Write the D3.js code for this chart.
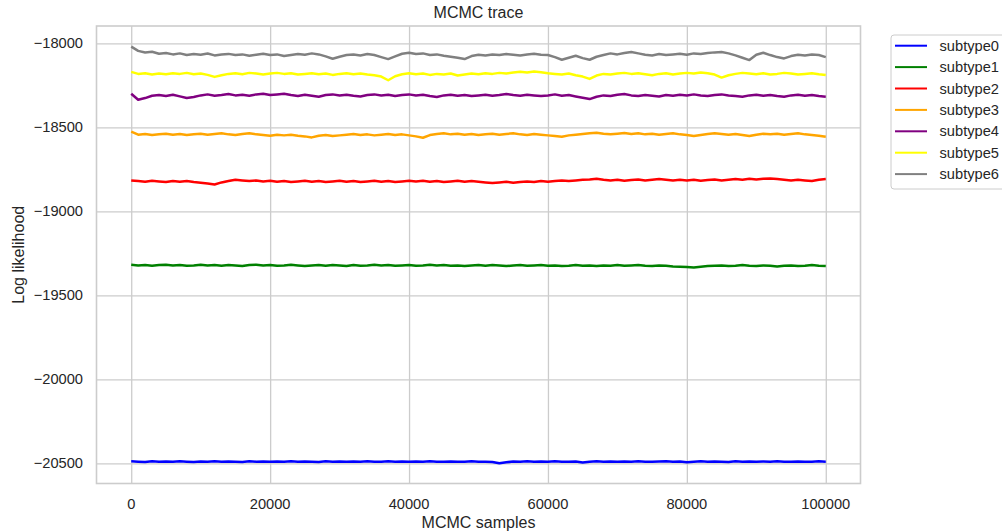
<!DOCTYPE html>
<html>
<head>
<meta charset="utf-8">
<script src="https://cdn.jsdelivr.net/npm/d3@7"></script>
<style>
	body { margin: 0; background: #fff; }
	svg text { font-family: "Liberation Sans", Arial, sans-serif; fill: #262626; }
</style>
</head>
<body>
<div id="chart"><svg></svg></div>
<script>
// one value every 1000 samples
var sampleStep = 1000;
var seriesNames = ["subtype0", "subtype1", "subtype2", "subtype3", "subtype4", "subtype5", "subtype6"];
var seriesColors = ["blue", "green", "red", "orange", "purple", "yellow", "gray"];
var yTicks = [-18000, -18500, -19000, -19500, -20000, -20500];
var xTicks = [0, 20000, 40000, 60000, 80000, 100000];

var subtype0 = [-20488,
	-20490,-20492,-20488,-20490,-20489,-20491,-20488,-20490,-20492,-20489,
	-20490,-20488,-20491,-20489,-20490,-20492,-20488,-20490,-20489,-20491,
	-20489,-20490,-20488,-20491,-20489,-20490,-20492,-20488,-20490,-20489,
	-20491,-20489,-20490,-20488,-20491,-20490,-20488,-20490,-20489,-20491,
	-20489,-20490,-20488,-20491,-20490,-20489,-20491,-20490,-20488,-20490,
	-20491,-20492,-20500,-20494,-20489,-20490,-20488,-20491,-20489,-20490,
	-20488,-20490,-20491,-20489,-20495,-20490,-20488,-20490,-20489,-20491,
	-20489,-20490,-20488,-20491,-20490,-20489,-20488,-20490,-20489,-20494,
	-20490,-20488,-20491,-20489,-20490,-20492,-20488,-20490,-20489,-20491,
	-20489,-20490,-20488,-20491,-20490,-20489,-20491,-20490,-20488,-20490];

var subtype1 = [-19318,
	-19322,-19320,-19324,-19320,-19318,-19322,-19320,-19324,-19322,-19318,
	-19322,-19320,-19324,-19320,-19322,-19326,-19320,-19318,-19322,-19320,
	-19324,-19322,-19318,-19322,-19326,-19322,-19320,-19324,-19320,-19322,
	-19326,-19320,-19324,-19322,-19318,-19322,-19320,-19324,-19322,-19320,
	-19324,-19322,-19318,-19322,-19320,-19324,-19322,-19326,-19322,-19320,
	-19324,-19320,-19322,-19326,-19322,-19320,-19324,-19322,-19320,-19324,
	-19322,-19326,-19324,-19320,-19324,-19322,-19326,-19322,-19324,-19320,
	-19324,-19322,-19320,-19324,-19326,-19322,-19324,-19328,-19330,-19332,
	-19334,-19330,-19326,-19324,-19322,-19326,-19324,-19320,-19324,-19326,
	-19322,-19324,-19328,-19324,-19322,-19326,-19324,-19320,-19324,-19326];

var subtype2 = [-18816,
	-18820,-18824,-18818,-18822,-18826,-18820,-18824,-18820,-18826,-18830,
	-18834,-18840,-18828,-18820,-18812,-18816,-18820,-18816,-18822,-18818,
	-18824,-18820,-18826,-18822,-18818,-18824,-18820,-18826,-18822,-18818,
	-18824,-18820,-18826,-18822,-18818,-18824,-18820,-18826,-18822,-18818,
	-18822,-18818,-18824,-18820,-18826,-18822,-18818,-18824,-18820,-18824,
	-18828,-18832,-18828,-18824,-18830,-18826,-18822,-18826,-18820,-18824,
	-18820,-18816,-18820,-18816,-18812,-18810,-18806,-18812,-18816,-18812,
	-18818,-18814,-18810,-18816,-18812,-18808,-18812,-18816,-18812,-18816,
	-18812,-18818,-18814,-18810,-18816,-18812,-18808,-18812,-18806,-18810,
	-18806,-18804,-18808,-18812,-18816,-18812,-18816,-18820,-18812,-18808];

var subtype3 = [-18526,
	-18544,-18540,-18546,-18542,-18538,-18544,-18540,-18546,-18542,-18538,
	-18544,-18540,-18536,-18542,-18546,-18540,-18536,-18542,-18546,-18550,
	-18544,-18548,-18544,-18550,-18554,-18560,-18550,-18546,-18552,-18548,
	-18544,-18540,-18546,-18542,-18548,-18544,-18540,-18546,-18542,-18548,
	-18554,-18562,-18546,-18540,-18536,-18542,-18538,-18544,-18540,-18546,
	-18542,-18538,-18544,-18540,-18536,-18542,-18546,-18540,-18544,-18548,
	-18552,-18556,-18548,-18544,-18540,-18536,-18532,-18538,-18542,-18538,
	-18534,-18540,-18536,-18542,-18538,-18544,-18540,-18536,-18542,-18546,
	-18552,-18546,-18540,-18536,-18540,-18544,-18540,-18546,-18552,-18544,
	-18538,-18542,-18538,-18544,-18540,-18536,-18542,-18546,-18550,-18556];

var subtype4 = [-18300,
	-18336,-18326,-18312,-18308,-18314,-18306,-18316,-18326,-18320,-18310,
	-18304,-18312,-18308,-18302,-18310,-18306,-18312,-18304,-18300,-18308,
	-18304,-18300,-18308,-18314,-18306,-18312,-18318,-18308,-18304,-18310,
	-18306,-18312,-18316,-18308,-18304,-18310,-18306,-18314,-18308,-18304,
	-18310,-18306,-18314,-18320,-18310,-18306,-18312,-18308,-18314,-18310,
	-18306,-18312,-18308,-18302,-18308,-18312,-18306,-18310,-18314,-18310,
	-18304,-18312,-18308,-18316,-18324,-18332,-18318,-18310,-18314,-18306,
	-18302,-18310,-18314,-18308,-18312,-18316,-18308,-18312,-18306,-18310,
	-18304,-18310,-18314,-18308,-18304,-18310,-18314,-18318,-18310,-18306,
	-18312,-18308,-18314,-18318,-18310,-18306,-18312,-18308,-18314,-18318];

var subtype5 = [-18170,
	-18182,-18178,-18186,-18180,-18184,-18178,-18182,-18176,-18184,-18180,
	-18188,-18200,-18190,-18182,-18178,-18184,-18176,-18180,-18186,-18180,
	-18176,-18182,-18178,-18186,-18182,-18178,-18184,-18180,-18188,-18182,
	-18178,-18184,-18180,-18186,-18190,-18198,-18220,-18196,-18184,-18178,
	-18184,-18180,-18188,-18182,-18186,-18180,-18192,-18186,-18180,-18184,
	-18178,-18182,-18176,-18180,-18174,-18170,-18174,-18168,-18172,-18178,
	-18182,-18186,-18180,-18190,-18198,-18212,-18192,-18182,-18186,-18180,
	-18176,-18182,-18178,-18184,-18190,-18182,-18178,-18186,-18180,-18176,
	-18180,-18174,-18178,-18186,-18204,-18190,-18182,-18176,-18180,-18184,
	-18178,-18186,-18182,-18176,-18180,-18186,-18182,-18178,-18184,-18188];

var subtype6 = [-18020,
	-18045,-18055,-18050,-18062,-18058,-18066,-18060,-18070,-18064,-18068,
	-18061,-18072,-18066,-18063,-18070,-18066,-18074,-18068,-18062,-18070,
	-18066,-18076,-18070,-18064,-18068,-18060,-18066,-18078,-18092,-18080,
	-18070,-18066,-18072,-18064,-18070,-18082,-18094,-18078,-18062,-18056,
	-18064,-18060,-18070,-18066,-18074,-18080,-18086,-18094,-18076,-18068,
	-18072,-18066,-18070,-18064,-18068,-18072,-18066,-18062,-18068,-18070,
	-18082,-18098,-18086,-18074,-18088,-18098,-18080,-18070,-18060,-18066,
	-18058,-18052,-18060,-18068,-18072,-18064,-18070,-18066,-18062,-18068,
	-18060,-18064,-18058,-18054,-18052,-18060,-18072,-18086,-18100,-18068,
	-18056,-18070,-18082,-18090,-18076,-18068,-18072,-18066,-18070,-18082];

var seriesValues = [subtype0, subtype1, subtype2, subtype3, subtype4, subtype5, subtype6];

var width = 1002,
	height = 532,
	plotLeft = 96.5,
	plotRight = 860.5,
	plotTop = 26,
	plotBottom = 483.5,
	gridColor = "#cccccc";

var svg = d3.select("#chart svg")
	.attr("width", width)
	.attr("height", height);

var x = d3.scaleLinear()
	.domain([-5000, 105000])
	.range([plotLeft, plotRight]);

var y = d3.scaleLinear()
	.domain([-20620, -17897])
	.range([plotBottom, plotTop]);

// grid lines
svg.append("g")
	.attr("transform", "translate(0," + plotBottom + ")")
	.call(d3.axisBottom(x).tickValues(xTicks).tickSize(-(plotBottom - plotTop)).tickFormat(""))
	.call(function(g) { g.select(".domain").remove(); })
	.selectAll("line").attr("stroke", gridColor).attr("stroke-width", 1.3);

svg.append("g")
	.attr("transform", "translate(" + plotLeft + ",0)")
	.call(d3.axisLeft(y).tickValues(yTicks).tickSize(-(plotRight - plotLeft)).tickFormat(""))
	.call(function(g) { g.select(".domain").remove(); })
	.selectAll("line").attr("stroke", gridColor).attr("stroke-width", 1.3);

// tick labels
var fmt = d3.format("d");
svg.append("g").selectAll("text")
	.data(xTicks)
	.enter().append("text")
	.attr("x", function(d) { return x(d); })
	.attr("y", 509)
	.attr("text-anchor", "middle")
	.attr("font-size", "14.67px")
	.text(function(d) { return fmt(d); });

svg.append("g").selectAll("text")
	.data(yTicks)
	.enter().append("text")
	.attr("x", 83)
	.attr("y", function(d) { return y(d); })
	.attr("dy", "0.35em")
	.attr("text-anchor", "end")
	.attr("font-size", "14.67px")
	.text(function(d) { return fmt(d); });

// traces
var line = d3.line()
	.x(function(d, i) { return x(i * sampleStep); })
	.y(function(d) { return y(d); });

svg.append("g").selectAll("path")
	.data(seriesValues)
	.enter().append("path")
	.attr("d", line)
	.attr("fill", "none")
	.attr("stroke", function(d, i) { return seriesColors[i]; })
	.attr("stroke-width", 2.5)
	.attr("stroke-linejoin", "round")
	.attr("stroke-linecap", "butt");

// frame
svg.append("rect")
	.attr("x", plotLeft).attr("y", plotTop)
	.attr("width", plotRight - plotLeft).attr("height", plotBottom - plotTop)
	.attr("fill", "none")
	.attr("stroke", gridColor)
	.attr("stroke-width", 1.6);

// titles
svg.append("text")
	.attr("x", (plotLeft + plotRight) / 2).attr("y", 18.3)
	.attr("text-anchor", "middle")
	.attr("font-size", "16px")
	.text("MCMC trace");

svg.append("text")
	.attr("x", (plotLeft + plotRight) / 2).attr("y", 528)
	.attr("text-anchor", "middle")
	.attr("font-size", "16px")
	.text("MCMC samples");

svg.append("text")
	.attr("transform", "translate(24," + (plotTop + plotBottom) / 2 + ") rotate(-90)")
	.attr("text-anchor", "middle")
	.attr("font-size", "16px")
	.text("Log likelihood");

// legend
var legend = svg.append("g").attr("transform", "translate(891,35)");

legend.append("rect")
	.attr("x", 0).attr("y", 0)
	.attr("width", 130).attr("height", 154)
	.attr("rx", 3)
	.attr("fill", "white")
	.attr("fill-opacity", 0.8)
	.attr("stroke", gridColor)
	.attr("stroke-width", 1);

var item = legend.selectAll(".item")
	.data(seriesNames)
	.enter().append("g")
	.attr("class", "item")
	.attr("transform", function(d, i) { return "translate(0," + (10.7 + i * 21.4) + ")"; });

item.append("line")
	.attr("x1", 4).attr("x2", 36)
	.attr("stroke", function(d, i) { return seriesColors[i]; })
	.attr("stroke-width", 2);

item.append("text")
	.attr("x", 48.5)
	.attr("dy", "0.35em")
	.attr("font-size", "14.67px")
	.text(function(d) { return d; });
</script>
</body>
</html>
